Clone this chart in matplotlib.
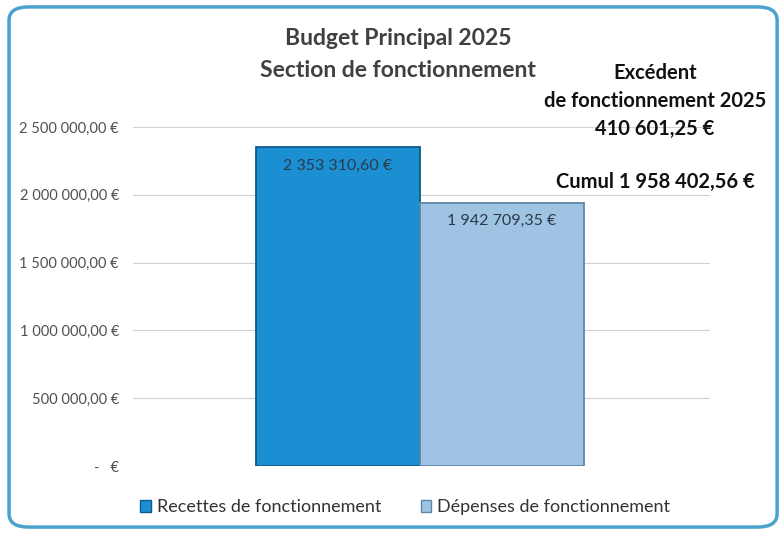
import matplotlib
matplotlib.use("Agg")
import matplotlib.pyplot as plt
from matplotlib.patches import FancyBboxPatch

plt.rcParams['font.family'] = ['Lato', 'DejaVu Sans']

categories = ['Recettes de fonctionnement', 'Dépenses de fonctionnement']
values = [2353310.60, 1942709.35]
value_labels = ['2 353 310,60 €', '1 942 709,35 €']
bar_colors = ['#1c8fd2', '#9fc3e2']
edge_colors = ['#0d5a8c', '#5f86aa']

yticks = [0, 500000, 1000000, 1500000, 2000000, 2500000]
ytick_labels = ['-   €', '500 000,00 €', '1 000 000,00 €', '1 500 000,00 €',
                '2 000 000,00 €', '2 500 000,00 €']

title_lines = ['Budget Principal 2025', 'Section de fonctionnement']
side_lines = ['Excédent', 'de fonctionnement 2025', '410 601,25 €']
cumul_text = 'Cumul 1 958 402,56 €'

fig = plt.figure(figsize=(7.79, 5.34), dpi=100)

# rounded frame around the chart
frame = FancyBboxPatch((0.0116, 0.013), 0.986, 0.974, boxstyle="round,pad=0,rounding_size=0.025",
                       transform=fig.transFigure, facecolor='white', edgecolor='#4aa3cf',
                       linewidth=2.5, zorder=-5)
fig.patches.append(frame)

ax = fig.add_axes([0.1707, 0.1273, 0.7407, 0.6348])
ax.set_facecolor('none')
ax.set_zorder(2)

x = [0, 1]
bars = ax.bar(x, values, width=1.0, color=bar_colors, edgecolor=edge_colors, linewidth=1.3, zorder=3)

for b, lab in zip(bars, value_labels):
    ax.text(b.get_x() + b.get_width() / 2, b.get_height() - 85000, lab,
            ha='center', va='top', fontsize=11.5, color='#2b3a4a', zorder=4)

ax.set_xlim(-1.25, 2.27)
ax.set_ylim(0, 2500000)
ax.set_yticks(yticks)
ax.set_yticklabels(ytick_labels, fontsize=10.5, color='#505050')
ax.set_xticks([])
ax.tick_params(axis='y', length=0, pad=10)
ax.grid(axis='y', color='#d0d0d0', linewidth=0.8, zorder=0)
for s in ax.spines.values():
    s.set_visible(False)

fig.text(0.511, 0.928, title_lines[0], ha='center', va='center', fontsize=16.5,
         fontweight='bold', color='#404040')
fig.text(0.511, 0.868, title_lines[1], ha='center', va='center', fontsize=16.5,
         fontweight='bold', color='#404040')

for i, line in enumerate(side_lines):
    fig.text(0.841, 0.863 - i * 0.052, line, ha='center', va='center', fontsize=14.5,
             fontweight='bold', color='#111111')
fig.text(0.841, 0.659, cumul_text, ha='center', va='center', fontsize=14.5,
         fontweight='bold', color='#111111')

handles = [plt.Rectangle((0, 0), 1, 1, facecolor=c, edgecolor=e) for c, e in zip(bar_colors, edge_colors)]
fig.legend(handles, categories, loc='center', bbox_to_anchor=(0.52, 0.05), ncol=2,
           frameon=False, fontsize=13, handlelength=0.6, handleheight=0.6,
           handletextpad=0.3, columnspacing=2.2, labelcolor='#333333')

fig.savefig('out.png', dpi=100)
